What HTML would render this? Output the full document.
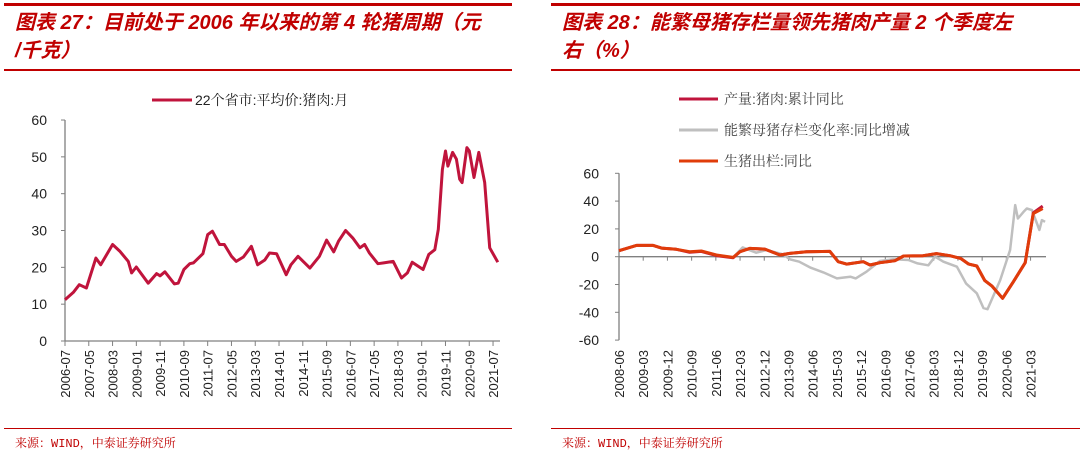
<!DOCTYPE html>
<html><head><meta charset="utf-8">
<style>
body{margin:0;width:1080px;height:454px;background:#fff;overflow:hidden;position:relative;font-family:"Liberation Sans","Noto Sans CJK SC",sans-serif}
.t{position:absolute;color:#c00000;font-style:italic;font-weight:bold;font-size:20px;line-height:28px;font-family:"Liberation Sans","Noto Sans CJK SC",sans-serif}
.hr{position:absolute;background:#c00000}
.src{position:absolute;top:434px;font-size:12px;color:#c00000;font-family:"Liberation Mono","Noto Serif CJK SC",serif}
svg{position:absolute;left:0;top:0}
</style></head><body>
<div class="hr" style="left:4px;top:3px;width:508px;height:3px"></div>
<div class="hr" style="left:551px;top:3px;width:529px;height:3px"></div>
<div class="t" style="left:15px;top:9px;width:510px">图表 27：目前处于 2006 年以来的第 4 轮猪周期（元<br>/千克）</div>
<div class="t" style="left:562px;top:9px;width:515px">图表 28：能繁母猪存栏量领先猪肉产量 2 个季度左<br>右（%）</div>
<div class="hr" style="left:4px;top:69px;width:508px;height:2px"></div>
<div class="hr" style="left:551px;top:69px;width:529px;height:2px"></div>
<div class="hr" style="left:4px;top:428px;width:508px;height:1px"></div>
<div class="hr" style="left:551px;top:428px;width:529px;height:1px"></div>
<div class="src" style="left:15px">来源：WIND，中泰证券研究所</div>
<div class="src" style="left:562px">来源：WIND，中泰证券研究所</div>
<svg id="c" width="1080" height="454"></svg>
<script>
// Left chart data (month index from 2006-07)
const leftMonths=[0,3.5,6,9,13,15,20,23,26.6,28,30,35,38.5,40,42,46,47.6,50,52.5,54,58,60,62,65,67,70,72,75,78.4,81,84,86,89,93,95,98,103,107,110,113,115,118,121,124,126,128,131.6,134,138,141.5,144,146,150.6,153,155.5,157,158.7,160,161,163,164.6,166,167,169,170,172,174,176.5,178.6,182];
const leftValues=[11.2,13.2,15.3,14.4,22.5,20.7,26.2,24.4,21.6,18.5,20.1,15.7,18.3,17.7,18.8,15.5,15.7,19.4,21,21.2,23.7,28.9,29.8,26.2,26.2,23,21.6,22.8,25.7,20.7,22,23.9,23.7,18,20.7,23,19.8,23,27.4,24.2,27.1,30,28,25.3,26.2,23.9,21,21.2,21.6,17.1,18.5,21.4,19.4,23.5,24.8,30.3,46.6,51.6,47.5,51.2,49.4,43.9,43,52.5,51.6,44.4,51.2,43,25.3,21.4];
const leftYTicks=[0,10,20,30,40,50,60];
const leftXLabels=["2006-07","2007-05","2008-03","2009-01","2009-11","2010-09","2011-07","2012-05","2013-03","2014-01","2014-11","2015-09","2016-07","2017-05","2018-03","2019-01","2019-11","2020-09","2021-07"];
// Right chart data (month index from 2008-06)
const prodMonths=[0,6.5,12.7,15.8,21.3,26.3,30.6,36.2,42.4,45,48.6,54.2,59.8,63.5,69.7,78.4,81.5,84.6,90.8,93.3,97,102.6,105.8,113,118,123,127,130,133,136,138.6,142.6,146.6,151,154,157.5];
const prodValues=[4.3,8.1,8.1,6.2,5.3,3.2,3.8,0.8,-0.8,3.6,6,5.5,1.2,2.4,3.6,3.8,-3.6,-5.3,-3.6,-6,-4.3,-2.9,0.5,0.7,2.2,0.7,-1.2,-5.3,-6.7,-17.2,-21,-29.9,-18,-4.3,31.5,36.4];
const outMonths=[0,6.5,12.7,15.8,21.3,26.3,30.6,36.2,42.4,45,48.6,54.2,59.8,63.5,69.7,78.4,81.5,84.6,90.8,93.3,97,102.6,105.8,113,118,123,127,130,133,136,138.6,142.6,146.6,151,154,157.5];
const outValues=[4.3,8.1,8.1,6.2,5.3,3.6,4.1,1.2,-0.5,3.6,6,5.5,1.2,2.4,3.6,3.8,-3.6,-5.3,-3.6,-6,-4.3,-2.9,0.5,0.7,2.2,0.7,-1.2,-5.3,-6.7,-17.2,-21,-29.9,-18,-4.3,31.1,34.7];
const sowMonths=[0,6.5,12.7,15.8,21.3,26.3,30.6,36.2,42.4,46,51,54.8,61,63.5,67,71,76,81,86,88,92,97,102,107.6,111,115,117.5,120.6,125.6,129,133,135.5,137,141.7,145.4,147.3,148.3,150.4,151.6,153.5,154.7,156.3,157.2,158.4];
const sowValues=[4.3,8.1,8.1,6.2,5.3,3.6,4.1,1.2,-0.5,6.7,2.9,4.8,1.7,-1.9,-3.6,-7.7,-11.3,-15.6,-14.4,-15.6,-10.8,-3.1,-1.9,-2.4,-4.8,-6.2,0,-3.6,-7.2,-19.2,-26.3,-37,-37.8,-16.8,4.8,37.1,27.5,32.3,34.7,33.5,27.5,19.2,26.3,25.1];
const rightYTicks=[-60,-40,-20,0,20,40,60];
const rightXLabels=["2008-06","2009-03","2009-12","2010-09","2011-06","2012-03","2012-12","2013-09","2014-06","2015-03","2015-12","2016-09","2017-06","2018-03","2018-12","2019-09","2020-06","2021-03"];

const svg=document.getElementById('c');
const NS='http://www.w3.org/2000/svg';
function mk(tag,attrs,name,txt){const e=document.createElementNS(NS,tag);for(const k in attrs)e.setAttribute(k,attrs[k]);


if(txt!==undefined)e.textContent=txt;svg.appendChild(e);return e;}
const axisCol='#808080';

// Left axes
const lx=m=>65+m*2.378, ly=v=>341-v*3.683;
mk('line',{x1:65,y1:ly(0),x2:65,y2:ly(60),stroke:axisCol,'stroke-width':1.3},'left-y-axis');
mk('line',{x1:65,y1:ly(0),x2:500,y2:ly(0),stroke:axisCol,'stroke-width':1.3},'left-x-axis');
leftYTicks.forEach(v=>{mk('line',{x1:61,y1:ly(v),x2:65,y2:ly(v),stroke:axisCol},'left-y-tick');
mk('text',{x:47,y:ly(v)+5,'text-anchor':'end','font-size':14,fill:'#222'},'left-y-tick-label',String(v));});
leftXLabels.forEach((s,i)=>{const x=lx(i*10);mk('line',{x1:x,y1:341,x2:x,y2:346,stroke:axisCol},'left-x-tick');
mk('text',{x:0,y:0,transform:`translate(${x+5},350) rotate(-90)`,'text-anchor':'end','font-size':13,fill:'#222'},'left-x-tick-label',s);});
mk('path',{d:leftMonths.map((m,i)=>(i?'L':'M')+lx(m).toFixed(1)+','+ly(leftValues[i]).toFixed(1)).join(''),fill:'none',stroke:'#c0143c','stroke-width':3,'stroke-linejoin':'round'},'left-price-line');
mk('line',{x1:152,y1:100,x2:192,y2:100,stroke:'#c0143c','stroke-width':3},'left-legend-swatch');
mk('text',{x:195,y:105,'font-size':14,fill:'#222','font-family':'Liberation Sans, Noto Serif CJK SC, serif'},'left-legend-label','22个省市:平均价:猪肉:月');

// Right axes
const rx=m=>619+m*2.69, ry=v=>256.7-v*1.39;
mk('line',{x1:619,y1:ry(-60),x2:619,y2:ry(60),stroke:axisCol,'stroke-width':1.3},'right-y-axis');
mk('line',{x1:619,y1:ry(0),x2:1046,y2:ry(0),stroke:axisCol,'stroke-width':1.3},'right-x-axis');
rightYTicks.forEach(v=>{mk('line',{x1:615,y1:ry(v),x2:619,y2:ry(v),stroke:axisCol},'right-y-tick');
mk('text',{x:599,y:ry(v)+5,'text-anchor':'end','font-size':14,fill:'#222'},'right-y-tick-label',String(v));});
rightXLabels.forEach((s,i)=>{const x=rx(i*9);mk('line',{x1:x,y1:ry(0),x2:x,y2:ry(0)+4,stroke:axisCol},'right-x-tick');
mk('text',{x:0,y:0,transform:`translate(${x+5},350) rotate(-90)`,'text-anchor':'end','font-size':13,fill:'#222'},'right-x-tick-label',s);});
const path=(ms,vs)=>ms.map((m,i)=>(i?'L':'M')+rx(m).toFixed(1)+','+ry(vs[i]).toFixed(1)).join('');
mk('path',{d:path(sowMonths,sowValues),fill:'none',stroke:'#bfbfbf','stroke-width':2.5,'stroke-linejoin':'round'},'sow-inventory-line');
mk('path',{d:path(prodMonths,prodValues),fill:'none',stroke:'#c0143c','stroke-width':3,'stroke-linejoin':'round'},'pork-output-line');
mk('path',{d:path(outMonths,outValues),fill:'none',stroke:'#e03c0a','stroke-width':3,'stroke-linejoin':'round'},'hog-slaughter-line');
const leg=[['#c0143c','产量:猪肉:累计同比','legend-pork-output'],['#bfbfbf','能繁母猪存栏变化率:同比增减','legend-sow-inventory'],['#e03c0a','生猪出栏:同比','legend-hog-slaughter']];
leg.forEach((l,i)=>{const y=99+i*31;mk('line',{x1:679,y1:y,x2:718,y2:y,stroke:l[0],'stroke-width':3},l[2]+'-swatch');
mk('text',{x:724,y:y+5,'font-size':14,fill:'#444','font-family':'Liberation Sans, Noto Serif CJK SC, serif'},l[2]+'-label',l[1]);});
</script>
</body></html>
